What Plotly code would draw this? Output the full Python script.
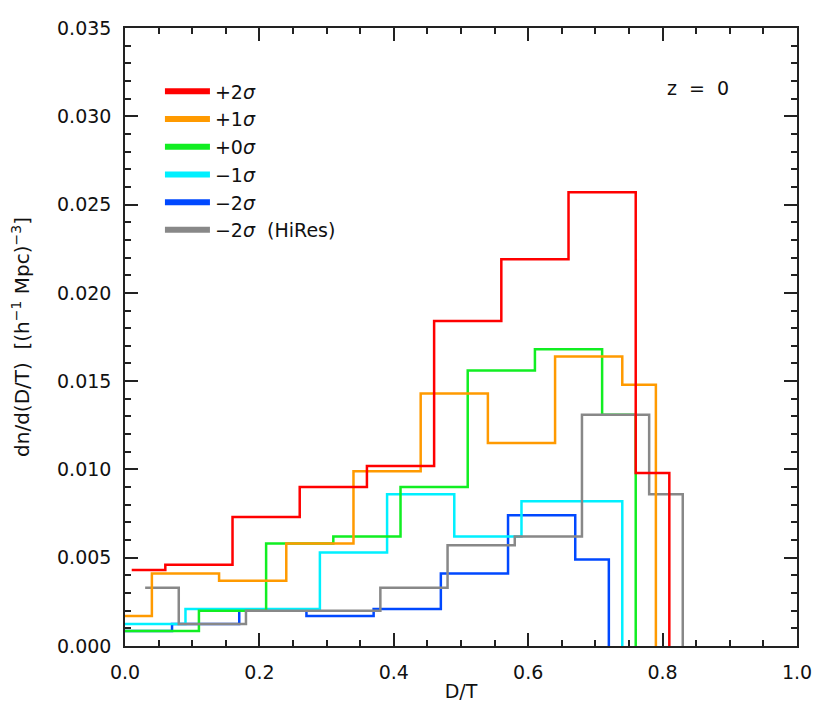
import plotly.graph_objects as go

# Bin centres (D/T) and values dn/d(D/T) for each series (step histograms)
red_x = [0.01, 0.11, 0.21, 0.31, 0.41, 0.51, 0.61, 0.71, 0.81]
red_y = [0.0043, 0.0046, 0.0073, 0.0090, 0.0102, 0.0184, 0.0219, 0.0257, 0.0098]

orange_x = [-0.01, 0.09, 0.19, 0.29, 0.39, 0.49, 0.59, 0.69, 0.79]
orange_y = [0.0017, 0.0041, 0.0037, 0.0058, 0.0099, 0.0143, 0.0115, 0.0164, 0.0148]

green_x = [-0.04, 0.06, 0.16, 0.26, 0.36, 0.46, 0.56, 0.66, 0.76]
green_y = [0.00085, 0.00085, 0.0020, 0.0058, 0.0062, 0.0090, 0.0156, 0.0168, 0.0131]

cyan_x = [-0.06, 0.04, 0.14, 0.24, 0.34, 0.44, 0.54, 0.64, 0.74]
cyan_y = [0.00125, 0.00125, 0.0021, 0.0021, 0.0053, 0.0086, 0.0062, 0.0082, 0.0082]

blue_x = [-0.08, 0.02, 0.12, 0.22, 0.32, 0.42, 0.52, 0.62, 0.72]
blue_y = [0.00085, 0.00085, 0.00125, 0.0020, 0.0017, 0.0021, 0.0041, 0.0074, 0.0049]

gray_x = [0.03, 0.13, 0.23, 0.33, 0.43, 0.53, 0.63, 0.73, 0.83]
gray_y = [0.0033, 0.00125, 0.0020, 0.0020, 0.0033, 0.0057, 0.0062, 0.0131, 0.0086]

labels = ["+2<i>σ</i>", "+1<i>σ</i>", "+0<i>σ</i>", "−1<i>σ</i>", "−2<i>σ</i>", "−2<i>σ</i>  (HiRes)"]
colors = ["#ff0000", "#ff9a00", "#11ee22", "#00f0ff", "#0048ff", "#888888"]

series = [(red_x, red_y), (orange_x, orange_y), (green_x, green_y),
          (cyan_x, cyan_y), (blue_x, blue_y), (gray_x, gray_y)]

FONT = "DejaVu Sans"
TXT = "#111111"
fig = go.Figure()

# drawing order (bottom to top)
draw_order = [4, 3, 2, 5, 1, 0]
for i in draw_order:
    xs, ys = series[i]
    fig.add_trace(go.Scatter(
        x=list(xs) + [xs[-1]], y=list(ys) + [0.0],
        mode="lines", line=dict(color=colors[i], width=2.5, shape="hvh"),
        showlegend=False, hoverinfo="skip"))

# legend entries with thick sample lines
for i in range(6):
    fig.add_trace(go.Scatter(
        x=[None], y=[None], mode="lines", name=labels[i], legendgroup=f"g{i}",
        line=dict(color=colors[i], width=6), legendrank=i + 1))

axis_common = dict(
    showline=True, linecolor="#222222", linewidth=1.5, mirror="allticks",
    ticks="inside", tickcolor="#222222", tickwidth=1.5,
    showgrid=False, zeroline=False,
    tickfont=dict(family=FONT, size=19, color=TXT),
    ticklabelstandoff=8,
)

fig.update_xaxes(range=[0, 1], tick0=0, dtick=0.2, tickformat=".1f", ticklen=13,
                 minor=dict(dtick=0.05, ticklen=6, ticks="inside", tickcolor="#222222", tickwidth=1.5),
                 title=dict(text="D/T", font=dict(family=FONT, size=19, color=TXT), standoff=3),
                 **axis_common)
fig.update_yaxes(range=[0, 0.035], tick0=0, dtick=0.005, tickformat=".3f", ticklen=13,
                 minor=dict(dtick=0.001, ticklen=6, ticks="inside", tickcolor="#222222", tickwidth=1.5),
                 title=dict(text="dn/d(D/T)  [(h<sup>−1</sup> Mpc)<sup>−3</sup>]",
                            font=dict(family=FONT, size=20, color=TXT), standoff=26),
                 **axis_common)

fig.add_annotation(x=0.853, y=0.0316, xref="x", yref="y", text="z  =  0", showarrow=False,
                   font=dict(family=FONT, size=19, color=TXT))

fig.update_layout(
    width=814, height=702,
    margin=dict(l=116.5, r=25, t=20, b=64, autoexpand=False),
    paper_bgcolor="white", plot_bgcolor="white",
    legend=dict(x=0.052, y=0.928, xanchor="left", yanchor="top", bgcolor="rgba(0,0,0,0)",
                font=dict(family=FONT, size=19, color=TXT), itemwidth=45,
                traceorder="normal", tracegroupgap=3),
    font=dict(family=FONT, size=19, color=TXT),
)

fig.write_html("out.html")
